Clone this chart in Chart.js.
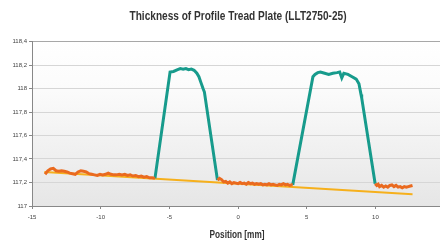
<!DOCTYPE html>
<html>
<head>
<meta charset="utf-8">
<script src="https://cdn.jsdelivr.net/npm/chart.js@4/dist/chart.umd.min.js"></script>
<style>
  body { margin: 0; background: #fff; }
  #wrap { width: 440px; height: 243px; }
</style>
</head>
<body>
<div id="wrap"><canvas id="treadChart"></canvas></div>
<script>
const canvas = document.getElementById('treadChart');

const chartTitle = 'Thickness of Profile Tread Plate (LLT2750-25)';
const xAxisTitle = 'Position [mm]';

// orange: measured surface between the ribs (three pieces)
const baseX1 = [-14.05,-13.85,-13.65,-13.45,-13.25,-13.05,-12.85,-12.65,-12.45,-12.25,-12.05,-11.85,-11.65,-11.45,-11.25,-11.05,-10.85,-10.65,-10.45,-10.25,-10.05,-9.85,-9.65,-9.45,-9.25,-9.05,-8.85,-8.65,-8.45,-8.25,-8.05,-7.85,-7.65,-7.45,-7.25,-7.05,-6.85,-6.65,-6.45,-6.25,-6.05];
const baseY1 = [117.27,117.30,117.315,117.32,117.30,117.295,117.30,117.295,117.29,117.28,117.275,117.27,117.29,117.30,117.295,117.29,117.275,117.27,117.265,117.26,117.27,117.265,117.27,117.28,117.27,117.265,117.265,117.27,117.265,117.27,117.26,117.265,117.255,117.26,117.25,117.255,117.245,117.25,117.24,117.24,117.235];
const baseX2 = [-1.5,-1.35,-1.2,-1.05,-0.9,-0.75,-0.6,-0.45,-0.3,-0.15,0,0.15,0.3,0.45,0.6,0.75,0.9,1.05,1.2,1.35,1.5,1.65,1.8,1.95,2.1,2.25,2.4,2.55,2.7,2.85,3,3.15,3.3,3.45,3.6,3.75,3.9,3.98];
const baseY2 = [117.22,117.235,117.225,117.205,117.21,117.195,117.205,117.19,117.2,117.195,117.19,117.2,117.19,117.195,117.185,117.2,117.19,117.195,117.185,117.19,117.185,117.19,117.18,117.185,117.18,117.19,117.18,117.185,117.18,117.175,117.185,117.18,117.19,117.18,117.185,117.175,117.18,117.18];
const baseX3 = [9.98,10.1,10.2,10.3,10.45,10.6,10.75,10.9,11.05,11.2,11.35,11.5,11.65,11.8,11.95,12.1,12.25,12.4,12.55,12.7];
const baseY3 = [117.19,117.175,117.185,117.165,117.175,117.16,117.17,117.16,117.175,117.18,117.165,117.175,117.16,117.165,117.155,117.165,117.16,117.165,117.17,117.175];

// teal: the two ribs
const ribX1 = [-6.05,-4.95,-4.7,-4.4,-4.2,-4.0,-3.8,-3.6,-3.4,-3.2,-3.0,-2.85,-2.7,-2.55,-2.45,-1.5];
const ribY1 = [117.235,118.14,118.145,118.16,118.17,118.165,118.17,118.16,118.165,118.155,118.13,118.1,118.05,118.0,117.97,117.22];
const ribX2 = [3.98,5.45,5.6,5.8,6.0,6.3,6.6,6.9,7.2,7.4,7.55,7.7,8.0,8.3,8.6,8.8,8.95,9.0,9.98];
const ribY2 = [117.18,118.1,118.12,118.135,118.14,118.13,118.12,118.13,118.135,118.14,118.09,118.13,118.12,118.1,118.08,118.04,117.95,117.92,117.19];

// yellow: reference line
const refX = [-14.1, 12.7];
const refY = [117.29, 117.10];

const xTicks = [-15, -10, -5, 0, 5, 10];

function toPoints(xs, ys) {
  return xs.map((x, i) => ({ x: x, y: ys[i] }));
}
const gap = { x: null, y: null };

const orangePoints = toPoints(baseX1, baseY1).concat([gap], toPoints(baseX2, baseY2), [gap], toPoints(baseX3, baseY3));
const tealPoints = toPoints(ribX1, ribY1).concat([gap], toPoints(ribX2, ribY2));

const plotBackground = {
  id: 'plotBackground',
  beforeDraw(chart) {
    const a = chart.chartArea;
    const ctx = chart.ctx;
    const g = ctx.createLinearGradient(0, a.top, 0, a.bottom);
    g.addColorStop(0, '#ffffff');
    g.addColorStop(0.3, '#fbfbfb');
    g.addColorStop(1, '#e6e6e6');
    ctx.save();
    ctx.fillStyle = g;
    ctx.fillRect(a.left, a.top, a.right - a.left, a.bottom - a.top);
    ctx.restore();
  }
};

// the original uses a condensed bold face, so squeeze the text to its width
function drawCondensed(ctx, text, cx, cy, size, width) {
  ctx.save();
  ctx.font = 'bold ' + size + "px 'Liberation Sans', Arial, sans-serif";
  const k = width / ctx.measureText(text).width;
  ctx.translate(cx, cy);
  ctx.scale(k, 1);
  ctx.textAlign = 'center';
  ctx.textBaseline = 'middle';
  ctx.fillStyle = '#333';
  ctx.fillText(text, 0, 0);
  ctx.restore();
}

const titles = {
  id: 'titles',
  afterDraw(chart) {
    const ctx = chart.ctx;
    drawCondensed(ctx, chartTitle, 238, 16.5, 13, 217);
    drawCondensed(ctx, xAxisTitle, 237, 235, 11, 55);
  }
};

const labelFont = { family: "'Liberation Sans Narrow', 'Liberation Sans', sans-serif", size: 6 };

const config = {
  type: 'line',
  data: {
    datasets: [
      {
        label: 'surface',
        data: orangePoints,
        borderColor: '#ea6a1f',
        borderWidth: 3,
        pointRadius: 0,
        spanGaps: false,
        tension: 0
      },
      {
        label: 'ribs',
        data: tealPoints,
        borderColor: '#179b8c',
        borderWidth: 3,
        pointRadius: 0,
        spanGaps: false,
        tension: 0
      },
      {
        label: 'reference',
        data: toPoints(refX, refY),
        borderColor: '#f6b01c',
        borderWidth: 2,
        pointRadius: 0
      }
    ]
  },
  options: {
    responsive: true,
    maintainAspectRatio: false,
    animation: false,
    layout: { padding: { top: 41.5 } },
    plugins: {
      legend: { display: false },
      tooltip: { enabled: false },
      title: { display: false }
    },
    scales: {
      x: {
        type: 'linear',
        min: -15,
        max: 14.7,
        afterFit: (s) => { s.height = 37; },
        afterBuildTicks: (s) => { s.ticks = xTicks.map(v => ({ value: v })); },
        ticks: { font: labelFont, color: '#444', padding: 5, maxRotation: 0 },
        grid: { drawOnChartArea: false, drawTicks: true, tickLength: 3, color: '#888' },
        border: { display: true, color: '#888' }
      },
      y: {
        min: 117,
        max: 118.4,
        afterFit: (s) => { s.width = 32; },
        ticks: {
          stepSize: 0.2,
          font: labelFont,
          color: '#444',
          padding: 2,
          callback: (v) => String(Math.round(v * 10) / 10).replace('.', ',')
        },
        grid: {
          tickLength: 3,
          color: (c) => (c.tick && Math.abs(c.tick.value - 118.4) < 0.01) ? '#a8a8a8' : '#d6d6d6',
          tickColor: '#888'
        },
        border: { display: true, color: '#888' }
      }
    }
  },
  plugins: [plotBackground, titles]
};

const treadChart = new Chart(canvas, config);
</script>
</body>
</html>
